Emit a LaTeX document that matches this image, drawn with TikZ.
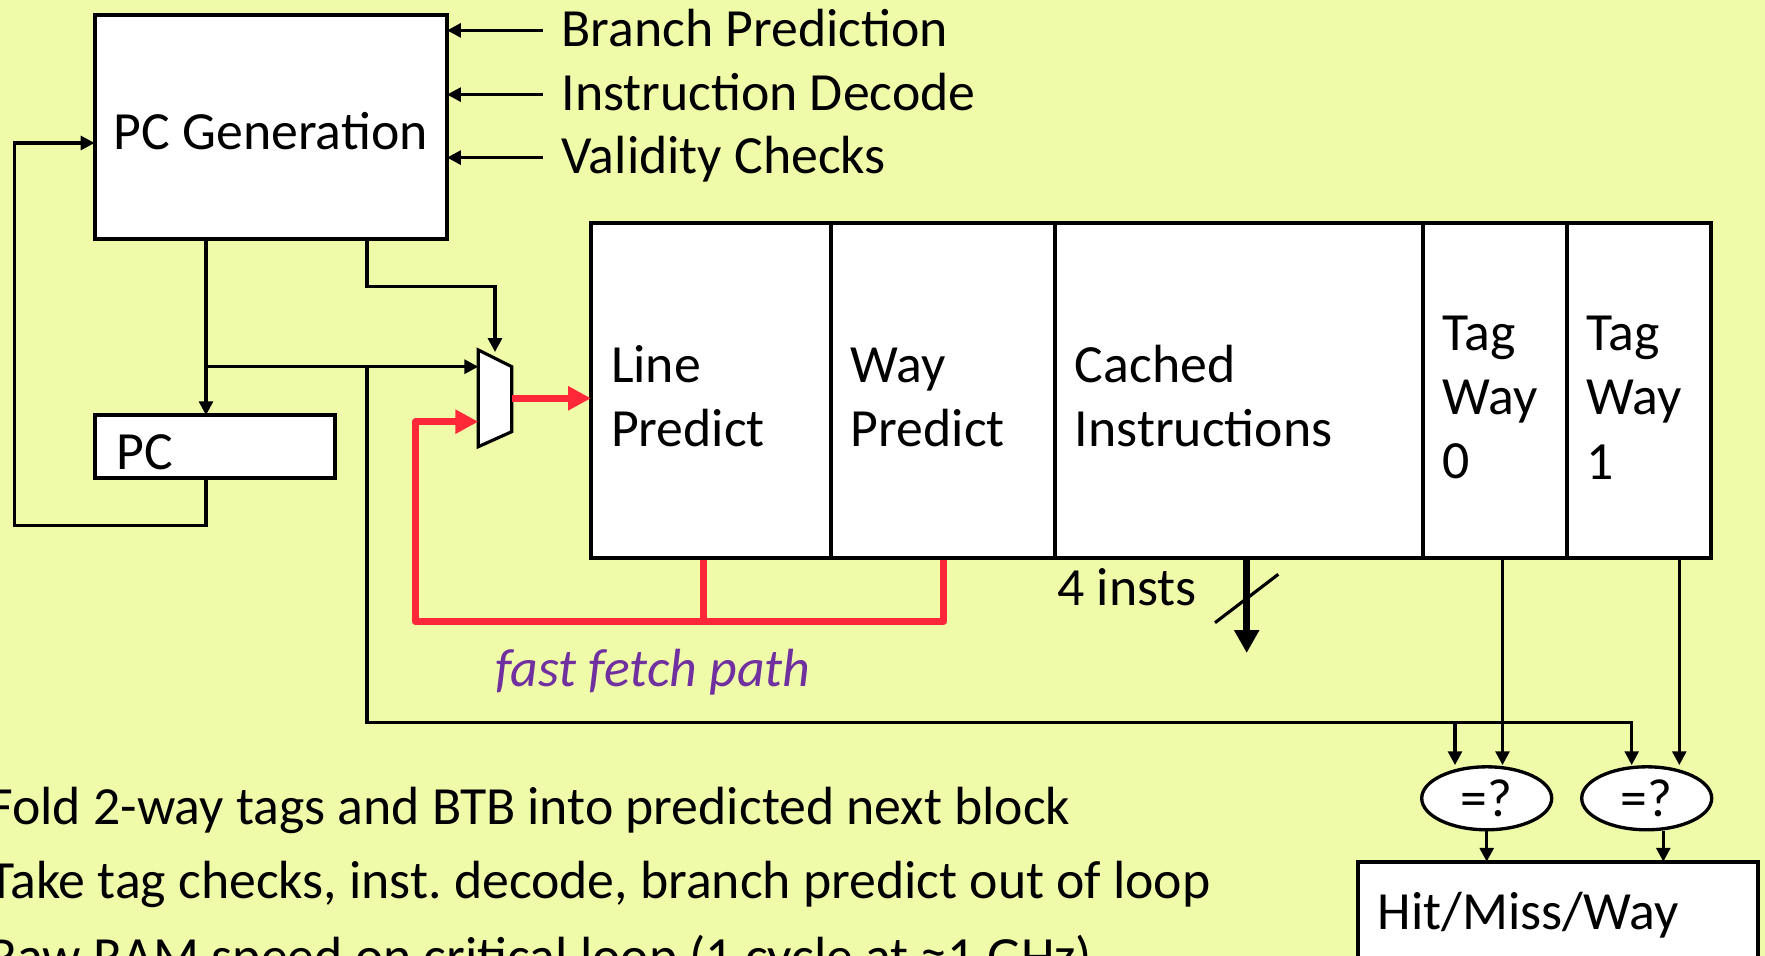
\documentclass[tikz,border=0pt]{standalone}
\usepackage{fontspec}
\setmainfont{Carlito}
\frenchspacing
\definecolor{slidebg}{RGB}{240, 251, 170}
\definecolor{fastred}{RGB}{255, 40, 56}
\definecolor{pathpurple}{RGB}{112, 48, 160}
\usetikzlibrary{arrows.meta, positioning, calc, shapes.geometric}

\begin{document}
\begin{tikzpicture}[x=0.02cm, y=-0.02cm, font=\fontsize{30.6}{36.6}\selectfont,
  wire/.style={line width=1.8pt},
  arr/.style={wire, -{Triangle[length=7.9pt, width=7.9pt]}},
  fast/.style={draw=fastred, line width=4.3pt, line join=round},
  fastarr/.style={fast, -{Triangle[length=13pt, width=13pt]}},
  bus/.style={line width=4pt, -{Triangle[length=13pt, width=13.5pt]}},
  block/.style={draw, fill=white, line width=2.3pt, outer sep=0pt},
  cell/.style={block, anchor=north west, minimum height=6.71cm, inner xsep=0.4cm, align=left, text height=27.5pt},
  inlabel/.style={anchor=west, inner xsep=0.37cm, text height=21pt, text depth=3pt},
  note/.style={anchor=base west, inner sep=0pt},
  cmp/.style={ellipse, draw, fill=white, line width=1.9pt, minimum width=2.6cm, minimum height=1.26cm, inner sep=0pt}]

  % Slide background
  \fill[slidebg] (0,0) rectangle (1765,956);
  \useasboundingbox (0,0) rectangle (1765,956);
  \clip (0,0) rectangle (1765,956);

  % PC generation and PC register
  \node[block, minimum width=7.05cm, minimum height=4.48cm, text height=26.4pt, text depth=0pt] (pcgen) at (270.8,126.6) {PC Generation};
  \node[block, minimum width=4.8cm, minimum height=1.26cm, text width=3.94cm, inner xsep=0.43cm, align=left, text height=26pt, text depth=0pt] (pc) at (214.7,446.7) {PC};

  % Inputs to PC generation
  \node[inlabel] (bp) at (542.6,30.4) {Branch Prediction};
  \node[inlabel] (id) at (542.6,94.6) {Instruction Decode};
  \node[inlabel] (vc) at (542.6,157.6) {Validity Checks};
  \draw[arr] (bp.west) -- (bp.west -| pcgen.east);
  \draw[arr] (id.west) -- (id.west -| pcgen.east);
  \draw[arr] (vc.west) -- (vc.west -| pcgen.east);

  % Cache line fields
  \node[cell, text width=4.0cm] (lp) at (591,222.9) {Line\\Predict};
  \node[cell, text width=3.68cm] (wp) at (lp.north east) {Way\\Predict};
  \node[cell, text width=6.56cm] (ci) at (wp.north east) {Cached\\Instructions};
  \node[cell, text width=2.08cm] (tw0) at (ci.north east) {Tag\\Way\\0};
  \node[cell, text width=2.08cm] (tw1) at (tw0.north east) {Tag\\Way\\1};

  % Mux
  \draw[wire, fill=white] (478.3,350) -- (511.7,366.7) -- (511.7,431.7) -- (478.3,446.7) -- cycle;
  \coordinate (muxa) at (478.3,366.7);
  \coordinate (muxb) at (478.3,421.7);
  \coordinate (muxs) at (495,352);
  \coordinate (muxo) at (511.7,398.3);

  % Tag comparators
  \node[cmp] (eq1) at (1486.7,798.3) {=?};
  \node[cmp] (eq2) at (1646.7,798.3) {=?};
  \node[block, anchor=north west, minimum width=8cm, minimum height=2.2cm, text width=7.22cm, inner xsep=0.39cm, align=left, text height=21pt, text depth=6pt] (hmw) at (1358.3,861.7) {Hit/Miss/Way};

  % Helper columns
  \coordinate (xa) at (206,0);
  \coordinate (xb) at (367,0);
  \coordinate (xl) at (703.6,0);
  \coordinate (xw) at (943.3,0);
  \coordinate (xt0) at (1502.5,0);
  \coordinate (xt1) at (1679.3,0);
  \coordinate (xo2) at (1663.3,0);
  \coordinate (fb) at (14.6,143);
  \coordinate (rl) at (415.4,621.4);
  \coordinate (c1) at (1455,722.7);
  \coordinate (c2) at (1631.7,722.7);
  \coordinate (ins) at (1246.7,653);

  % PC loop
  \draw[arr] (xa |- pcgen.south) -- (xa |- pc.north);
  \draw[arr] (xa |- pc.south) -- ++(0,47.3) -| (fb) -- (fb -| pcgen.west);
  \draw[arr] (xa |- muxa) -- (muxa);
  \draw[arr] (xb |- pcgen.south) -- ++(0,48) -| (muxs);

  % Fast fetch path
  \draw[fastarr] (muxo) -- (muxo -| lp.west);
  \draw[fastarr, shorten <=1.2pt] (xw |- wp.south) |- (rl) |- (muxb);
  \draw[fast, shorten <=1.2pt] (xl |- lp.south) -- (xl |- rl);
  \node[anchor=base, inner sep=0pt, text=pathpurple, font=\fontsize{30.6}{36.6}\selectfont\itshape] (ffp) at (652.7,686) {fast fetch path};

  % Instructions out
  \draw[bus] (ins |- ci.south) -- (ins);
  \draw[wire] (1215,622.7) -- (1278.3,574.3);
  \node[note] (insts) at (1057,605) {4 insts};

  % Tag checks
  \draw[arr] (xb |- muxa) |- (c2) -- (c2 |- eq2.north);
  \draw[arr] (c1) -- (c1 |- eq1.north);
  \draw[arr] (xt0 |- tw0.south) -- (xt0 |- eq1.north);
  \draw[arr] (xt1 |- tw1.south) -- (xt1 |- eq2.north);
  \draw[arr] (eq1.south) -- (eq1.south |- hmw.north);
  \draw[arr] (xo2 |- eq2.south) -- (xo2 |- hmw.north);

  % Notes
  \node[note] (note1) at (-12,824) {Fold 2-way tags and BTB into predicted next block};
  \node[note] (note2) at (-12,898.3) {Take tag checks, inst. decode, branch predict out of loop};
  \node[note] (note3) at (-12,974) {Raw RAM speed on critical loop (1 cycle at ≈1 GHz)};
\end{tikzpicture}
\end{document}
